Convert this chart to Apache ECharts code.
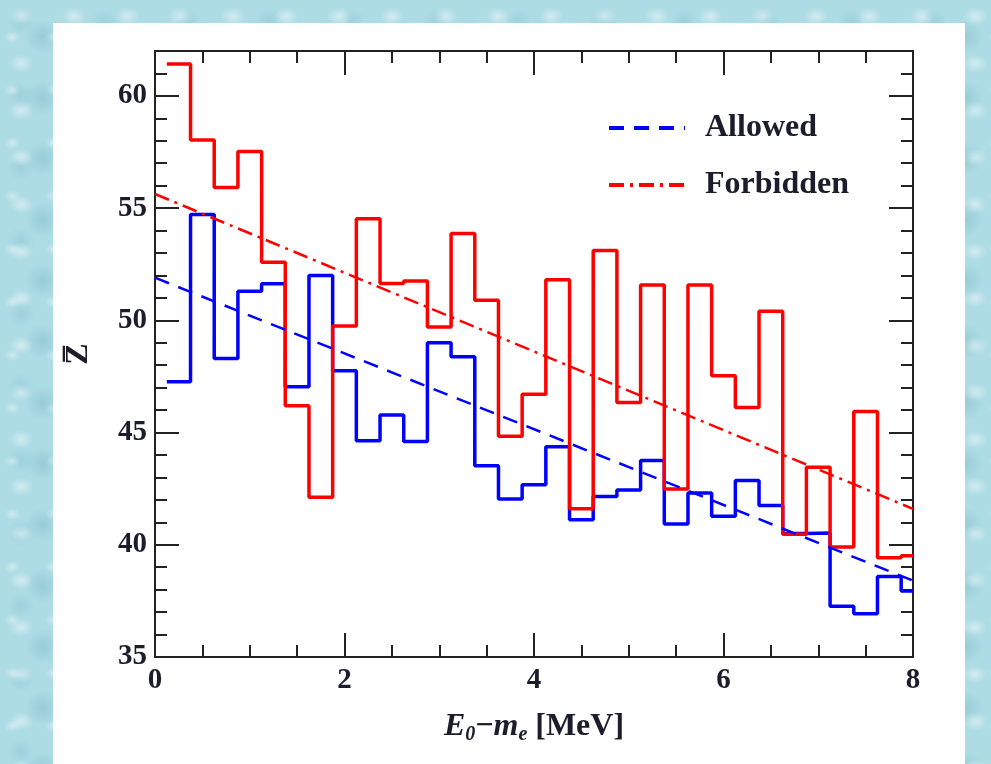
<!DOCTYPE html>
<html>
<head>
<meta charset="utf-8">
<title>Average Z vs E0 - me</title>
<script src="https://cdn.jsdelivr.net/npm/echarts@6/dist/echarts.min.js"></script>
<style>
  html, body { margin: 0; padding: 0; }
  body {
    width: 991px; height: 764px; overflow: hidden; position: relative;
    background-color: #aedce5;
    background-image:
      radial-gradient(ellipse 12px 9px at 40% 35%, rgba(255,255,255,0.45), rgba(255,255,255,0) 100%),
      radial-gradient(circle at 60% 60%, rgba(70,150,170,0.22) 0, rgba(70,150,170,0) 18px),
      radial-gradient(ellipse 8px 6px at 30% 70%, rgba(255,255,255,0.4), rgba(255,255,255,0) 100%),
      radial-gradient(circle at 25% 30%, rgba(90,165,180,0.2) 0, rgba(90,165,180,0) 14px);
    background-size: 53px 47px, 71px 61px, 41px 53px, 83px 73px;
  }
  #panel { position: absolute; left: 53px; top: 23px; width: 912px; height: 741px; background: #fff; }
  #main { position: absolute; left: 0; top: 0; width: 991px; height: 764px; }
</style>
</head>
<body>
<div id="panel"></div>
<div id="main"></div>
<script>
  // bin centres in MeV, each bin is 0.25 MeV wide
  var binCenters = [0.25, 0.5, 0.75, 1.0, 1.25, 1.5, 1.75, 2.0,
                    2.25, 2.5, 2.75, 3.0, 3.25, 3.5, 3.75, 4.0,
                    4.25, 4.5, 4.75, 5.0, 5.25, 5.5, 5.75, 6.0,
                    6.25, 6.5, 6.75, 7.0, 7.25, 7.5, 7.75, 8.0];
  var binWidth = 0.25;

  // mean Z per bin
  var allowedZ = [47.26, 54.71, 48.3, 51.3, 51.63, 47.04, 52.0, 47.75,
                  44.64, 45.78, 44.6, 49.0, 48.38, 43.52, 42.04, 42.68,
                  44.37, 41.11, 42.15, 42.44, 43.75, 40.93, 42.31, 41.27,
                  42.86, 41.75, 40.5, 40.53, 37.26, 36.93, 38.59, 37.94];
  var forbiddenZ = [61.42, 58.04, 55.92, 57.52, 52.59, 46.19, 42.12, 49.75,
                    54.53, 51.64, 51.75, 49.7, 53.87, 50.9, 44.84, 46.71,
                    51.81, 41.6, 53.11, 46.34, 51.57, 42.49, 51.57, 47.53,
                    46.12, 50.41, 40.47, 43.45, 39.9, 45.94, 39.42, 39.51];

  // straight-line fits, values at E = 0 and E = 8
  var fitE = [0, 8];
  var allowedFit = [51.9, 38.4];
  var forbiddenFit = [55.63, 41.6];

  var yMajorTicks = [35, 40, 45, 50, 55, 60];
  var xMax = 8;

  function stepPoints(vals) {
    var pts = [];
    binCenters.forEach(function (c, i) {
      var lo = c - binWidth / 2;
      var hi = Math.min(c + binWidth / 2, xMax);
      pts.push([lo, vals[i]], [hi, vals[i]]);
    });
    return pts;
  }
  function fitPoints(vals) {
    return fitE.map(function (e, i) { return [e, vals[i]]; });
  }

  var ink = '#1c1c2c';
  var axisCol = '#222';
  var serif = 'Liberation Serif';
  var tickStyle = { color: axisCol, width: 2 };

  function xAx(pos, labels) {
    return {
      type: 'value', min: 0, max: xMax, interval: 2, position: pos,
      axisLine: { show: true, onZero: false, lineStyle: tickStyle },
      axisTick: { show: true, inside: true, length: 24, lineStyle: tickStyle },
      minorTick: { show: true, splitNumber: 4, length: 12, lineStyle: tickStyle },
      splitLine: { show: false },
      axisLabel: { show: labels, margin: 9, color: ink, fontFamily: serif, fontWeight: 'bold', fontSize: 29 }
    };
  }
  function yAx(pos, interval, len, labels) {
    return {
      type: 'value', min: 35, max: 62, interval: interval, position: pos,
      axisLine: { show: true, onZero: false, lineStyle: tickStyle },
      axisTick: { show: true, inside: true, length: len, lineStyle: tickStyle },
      splitLine: { show: false },
      axisLabel: {
        show: labels, margin: 8, color: ink, fontFamily: serif, fontWeight: 'bold', fontSize: 29,
        formatter: function (v) { return yMajorTicks.indexOf(v) >= 0 ? String(v) : ''; }
      }
    };
  }

  var chart = echarts.init(document.getElementById('main'));

  var xBottom = xAx('bottom', true);
  xBottom.name = '{i|E}{s|0}{b|\u2212}{i|m}{s|e}{b| [MeV]}';
  xBottom.nameLocation = 'middle';
  xBottom.nameGap = 52;
  xBottom.nameTextStyle = {
    color: ink,
    rich: {
      i: { fontFamily: serif, fontStyle: 'italic', fontWeight: 'bold', fontSize: 32, color: ink, lineHeight: 36 },
      b: { fontFamily: serif, fontWeight: 'bold', fontSize: 32, color: ink, lineHeight: 36 },
      s: { fontFamily: serif, fontStyle: 'italic', fontWeight: 'bold', fontSize: 20, color: ink, lineHeight: 36, verticalAlign: 'bottom', padding: [12, 0, 0, 0] }
    }
  };

  var yLeft = yAx('left', 5, 24, true);
  yLeft.name = 'Z\u0305';
  yLeft.nameLocation = 'middle';
  yLeft.nameRotate = 90;
  yLeft.nameGap = 60;
  yLeft.nameTextStyle = { color: ink, fontFamily: serif, fontWeight: 'bold', fontSize: 32 };

  chart.setOption({
    animation: false,
    backgroundColor: 'transparent',
    grid: { left: 155, right: 78, top: 51, bottom: 107, containLabel: false },
    legend: {
      data: ['Allowed', 'Forbidden'],
      orient: 'vertical',
      left: 602, top: 107,
      itemWidth: 76, itemHeight: 14, itemGap: 25,
      itemStyle: { opacity: 0 },
      lineStyle: { width: 4 },
      textStyle: { color: ink, fontFamily: serif, fontWeight: 'bold', fontSize: 32, lineHeight: 32, padding: [0, 0, 0, 15] }
    },
    xAxis: [xBottom, xAx('top', false)],
    yAxis: [
      yLeft,
      yAx('left', 1, 12, false),
      yAx('right', 5, 24, false),
      yAx('right', 1, 12, false)
    ],
    series: [
      {
        name: 'Allowed bins', type: 'line', symbol: 'none', xAxisIndex: 0, yAxisIndex: 0,
        data: stepPoints(allowedZ),
        lineStyle: { color: '#0000ff', width: 3.5 }, itemStyle: { color: '#0000ff' }
      },
      {
        name: 'Forbidden bins', type: 'line', symbol: 'none', xAxisIndex: 0, yAxisIndex: 0,
        data: stepPoints(forbiddenZ),
        lineStyle: { color: '#ff0000', width: 3.5 }, itemStyle: { color: '#ff0000' }
      },
      {
        name: 'Allowed', type: 'line', symbol: 'none', xAxisIndex: 0, yAxisIndex: 0,
        data: fitPoints(allowedFit),
        lineStyle: { color: '#0000ff', width: 2.5, type: [15, 10] }, itemStyle: { color: '#0000ff' }
      },
      {
        name: 'Forbidden', type: 'line', symbol: 'none', xAxisIndex: 0, yAxisIndex: 0,
        data: fitPoints(forbiddenFit),
        lineStyle: { color: '#ff0000', width: 2.5, type: [15, 6, 3, 6] }, itemStyle: { color: '#ff0000' }
      }
    ]
  });
</script>
</body>
</html>
